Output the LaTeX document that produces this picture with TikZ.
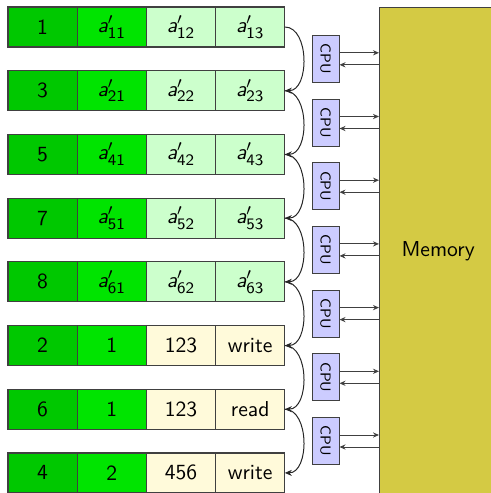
\documentclass[tikz,border=0pt]{standalone}
\usetikzlibrary{positioning,arrows.meta}

\definecolor{keygreen}{RGB}{0,200,0}
\definecolor{idxgreen}{RGB}{0,228,0}
\definecolor{valgreen}{RGB}{204,255,204}
\definecolor{opyellow}{RGB}{255,250,218}
\definecolor{cpublue}{RGB}{204,204,255}
\definecolor{memolive}{RGB}{212,202,68}

\newcommand{\ent}[1]{$\textit{a}'_{\mathsf{#1}}$}

\begin{document}
\begin{tikzpicture}[x=0.5pt,y=-0.5pt,
    every node/.style={font=\sffamily\fontsize{10.8}{13}\selectfont},
    cell/.style={draw=black!75,line width=0.6pt,minimum width=34.6pt,minimum height=20pt,inner sep=0pt,outer sep=0pt},
    cpu/.style={draw=black!75,fill=cpublue,line width=0.5pt,minimum width=13.5pt,minimum height=23.5pt,inner sep=0pt,
      font=\sffamily\fontsize{7.2}{8}\selectfont},
    memory/.style={draw=black!75,fill=memolive,line width=0.6pt,minimum width=58.5pt,minimum height=244.5pt,inner sep=0pt},
    hop/.style={-{Stealth[length=3.5pt,width=3pt]},line width=0.5pt,black!85},
    link/.style={-{Stealth[length=3pt,width=2.6pt]},line width=0.5pt,black!75}]
  \useasboundingbox (0,0) rectangle (491,493);
  \clip (0,0) rectangle (491,493);

  \foreach \i/\key/\idx/\val/\op/\tone in {
      1/1/\ent{11}/\ent{12}/\ent{13}/valgreen,
      2/3/\ent{21}/\ent{22}/\ent{23}/valgreen,
      3/5/\ent{41}/\ent{42}/\ent{43}/valgreen,
      4/7/\ent{51}/\ent{52}/\ent{53}/valgreen,
      5/8/\ent{61}/\ent{62}/\ent{63}/valgreen,
      6/2/1/123/write/opyellow,
      7/6/1/123/read/opyellow,
      8/4/2/456/write/opyellow}{
    \node[cell,fill=keygreen] (r\i-1) at (42.6,{27+63.7*(\i-1)}) {\key};
    \node[cell,fill=idxgreen,right=0pt of r\i-1] (r\i-2) {\idx};
    \node[cell,fill=\tone,right=0pt of r\i-2] (r\i-3) {\val};
    \node[cell,fill=\tone,right=0pt of r\i-3] (r\i-4) {\op};
  }

  \node[memory,anchor=north west] (mem) at (379,6.5) {Memory};

  \foreach \i [evaluate=\i as \j using int(\i+1)] in {1,...,7}{
    \draw[hop] (r\i-4.east) to[out=0,in=0] (r\j-4.east);
    \node[cpu] (cpu\i) at (325.5,{58.8+63.7*(\i-1)}) {\rotatebox{-90}{CPU}};
    \coordinate (out\i) at ([yshift=3pt]cpu\i.east);
    \coordinate (in\i) at ([yshift=-3pt]cpu\i.east);
    \draw[link] (out\i) -- (out\i -| mem.west);
    \draw[link] (in\i -| mem.west) -- (in\i);
  }
\end{tikzpicture}
\end{document}
